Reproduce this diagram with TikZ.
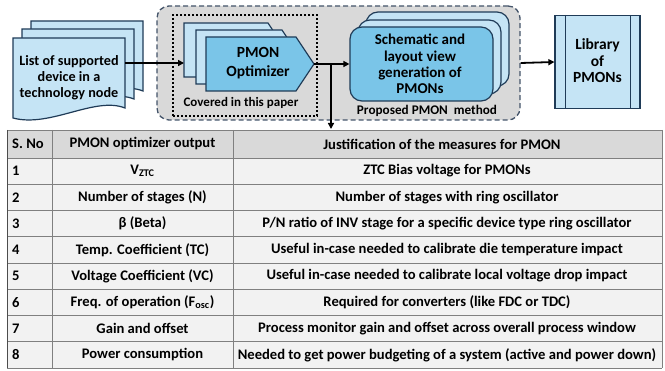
\documentclass[tikz,border=0pt]{standalone}
\usepackage{fontspec}
\setmainfont{Carlito}
\usetikzlibrary{arrows.meta}
\definecolor{lb}{HTML}{C5E4F5}
\definecolor{mb}{HTML}{7AC5E8}
\definecolor{navy}{HTML}{1F3B57}
\definecolor{grpfill}{HTML}{D9D9D9}
\definecolor{grpline}{HTML}{44546A}
\definecolor{hdr}{HTML}{D9D9D9}
\definecolor{rowc}{HTML}{F2F2F2}
\definecolor{grid}{HTML}{808080}
\newcommand\docsheet[2]{\filldraw[shp, fill=lb] (#1,#2) -- ++(112,0) -- ++(0,70) .. controls +(-30,-12) and +(37,10) .. ++(-112,10) -- cycle;}
\newcommand\optsheet[7]{\filldraw[shp, fill=#7] (#1,#2) -- (#3,#2) -- (#4,#5) -- (#3,#6) -- (#1,#6) -- cycle;}
\begin{document}
\begin{tikzpicture}[x=1pt,y=-1pt,
  font=\fontsize{14.6}{17}\selectfont\bfseries,
  shp/.style={draw=navy, line width=1.2pt},
  arr/.style={line width=1.8pt, -{Triangle[length=6pt,width=6pt]}},
  lbl/.style={align=center, inner sep=0pt},
  cell/.style={inner sep=0pt, anchor=center},
  cellL/.style={inner sep=0pt, anchor=west},
  gridline/.style={draw=grid, line width=0.8pt}]
\useasboundingbox (0,0) rectangle (665,371);

% group box
\node[draw=grpline, fill=grpfill, dash pattern=on 5pt off 3pt, line width=1.3pt,
      rounded corners=12pt, minimum width=363, minimum height=114, inner sep=0pt] (grp) at (338.5,63) {};
% dotted box
\node[draw=black, dash pattern=on 2.2pt off 1.8pt, line width=2.4pt,
      minimum width=144, minimum height=101, inner sep=0pt] (cov) at (245,65.5) {};

% document stack
\docsheet{31}{21}
\docsheet{22}{29}
\docsheet{13}{38}
\node[lbl, font=\fontsize{14.2}{16}\selectfont\bfseries] (doc) at (69,78) {List of supported\\device in a\\technology\ node};
\coordinate (docE) at (125,63);

% optimizer stack
\optsheet{184}{23}{268}{286}{50}{77}{lb}
\optsheet{196}{30}{282}{300}{57}{84}{lb}
\optsheet{206}{37}{296}{314}{64}{91}{mb}
\node[lbl, font=\fontsize{15.5}{19}\selectfont\bfseries] (opt) at (258,63) {PMON\\Optimizer};
\coordinate (optW) at (184,63);
\coordinate (optTip) at (314,64);
\coordinate (br) at (331,64);
\node[lbl, font=\fontsize{13}{14}\selectfont\bfseries] (covtxt) at (241,103) {Covered in this paper};

% schematic stack
\filldraw[shp, fill=lb, rounded corners=12pt] (366,12) rectangle (509,86);
\filldraw[shp, fill=lb, rounded corners=12pt] (358,20) rectangle (501,94);
\node[shp, fill=mb, rounded corners=12pt, minimum width=143, minimum height=74, inner sep=0pt] (sch) at (421.5,64) {};
\node[lbl, font=\fontsize{15}{16.2}\selectfont\bfseries] (schtxt) at (420,64) {Schematic and\\layout view\\generation of\\PMONs};
\node[lbl, font=\fontsize{13.2}{14}\selectfont\bfseries] (proptxt) at (427,111) {Proposed PMON\ \ method};

% library
\node[shp, fill=lb, minimum width=85, minimum height=93, inner sep=0pt] (lib) at (597.5,62) {};
\draw[shp] ([xshift=11pt]lib.north west) -- ([xshift=11pt]lib.south west);
\draw[shp] ([xshift=-10pt]lib.north east) -- ([xshift=-10pt]lib.south east);
\node[lbl, font=\fontsize{15.5}{16.5}\selectfont\bfseries] (libtxt) at (597.5,61) {Library\\of\\PMONs};

% table
\fill[hdr] (7,130) rectangle (662,158);
\fill[rowc] (7,158) rectangle (662,368);
\foreach \yy in {158,184.25,210.5,236.75,263,289.25,315.5,341.75}
  \draw[gridline] (7,\yy) -- (662,\yy);
\draw[gridline] (7,130) -- (662,130);
\draw[gridline] (7,368) -- (662,368);
\draw[gridline] (52,130) -- (52,368);
\draw[gridline] (233,130) -- (233,368);
\draw[gridline] (662,130) -- (662,368);
\draw[draw=black!70, line width=1pt] (7,130) -- (7,368);
\node[cellL] (h1) at (12,144) {S. No};
\node[cell] (h2) at (142.5,144) {PMON optimizer output};
\node[cell] (h3) at (442,144) {Justification of the measures for PMON};
\coordinate (tblTop) at (331,129);

\node[cellL] (n1) at (12,171.1) {1};
\node[cellL] (n2) at (12,197.4) {2};
\node[cellL] (n3) at (12,223.6) {3};
\node[cellL] (n4) at (12,249.9) {4};
\node[cellL] (n5) at (12,276.1) {5};
\node[cellL] (n6) at (12,302.4) {6};
\node[cellL] (n7) at (12,328.6) {7};
\node[cellL] (n8) at (12,354.9) {8};

\node[cell] (o1) at (142.5,171.1) {V\textsubscript{ZTC}};
\node[cell] (o2) at (142.5,197.4) {Number of stages (N)};
\node[cell] (o3) at (142.5,223.6) {β (Beta)};
\node[cell] (o4) at (142.5,249.9) {Temp. Coefficient (TC)};
\node[cell] (o5) at (142.5,276.1) {Voltage Coefficient (VC)};
\node[cell] (o6) at (142.5,302.4) {Freq. of operation (F\textsubscript{osc})};
\node[cell] (o7) at (142.5,328.6) {Gain and offset};
\node[cell] (o8) at (142.5,354.9) {Power consumption};

\node[cell] (j1) at (447,171.1) {ZTC Bias voltage for PMONs};
\node[cell] (j2) at (447,197.4) {Number of stages with ring oscillator};
\node[cell] (j3) at (447,223.6) {P/N ratio of INV stage for a specific device type ring oscillator};
\node[cell] (j4) at (447,249.9) {Useful in-case needed to calibrate die temperature impact};
\node[cell] (j5) at (447,276.1) {Useful in-case needed to calibrate local voltage drop impact};
\node[cell] (j6) at (447,302.4) {Required for converters (like FDC or TDC)};
\node[cell] (j7) at (447,328.6) {Process monitor gain and offset across overall process window};
\node[cell] (j8) at (447,354.9) {Needed to get power budgeting of a system (active and power down)};

% connectors
\draw[arr] (docE) -- (optW);
\draw[arr] (optTip) -- (sch.west);
\draw[arr] (br) -- (tblTop);
\draw[arr] (grp.east) -- (lib.west);
\end{tikzpicture}
\end{document}
